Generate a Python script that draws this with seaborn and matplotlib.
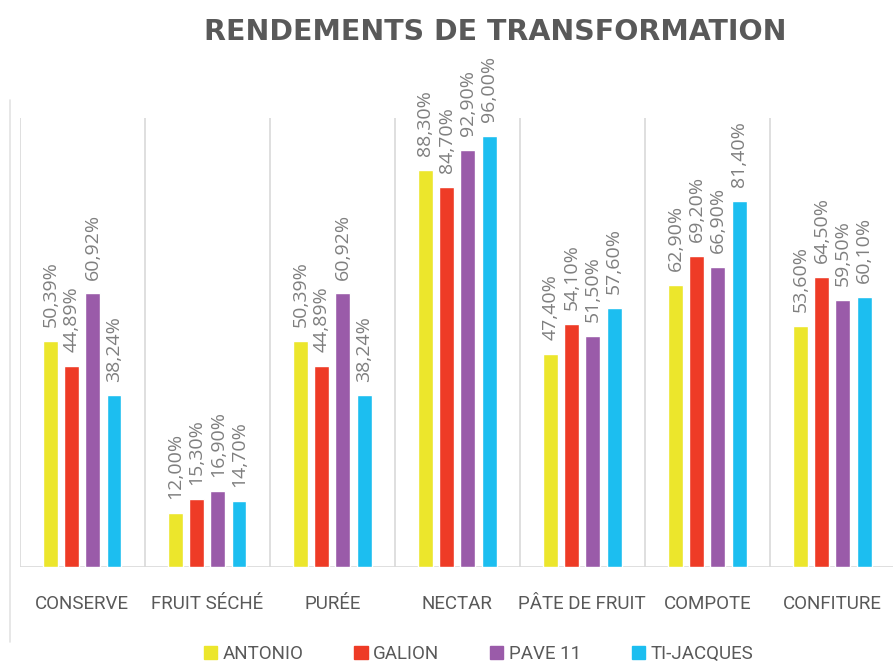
import pandas as pd
import numpy as np
import matplotlib
matplotlib.use("Agg")
import matplotlib.pyplot as plt
import seaborn as sns
from matplotlib.lines import Line2D

# data
categories = ["CONSERVE", "FRUIT SÉCHÉ", "PURÉE", "NECTAR", "PÂTE DE FRUIT", "COMPOTE", "CONFITURE"]
varieties = ["ANTONIO", "GALION", "PAVE 11", "TI-JACQUES"]
antonio = [50.39, 12.00, 50.39, 88.30, 47.40, 62.90, 53.60]
galion = [44.89, 15.30, 44.89, 84.70, 54.10, 69.20, 64.50]
pave_11 = [60.92, 16.90, 60.92, 92.90, 51.50, 66.90, 59.50]
ti_jacques = [38.24, 14.70, 38.24, 96.00, 57.60, 81.40, 60.10]
colors = ["#ECE62C", "#EE3B26", "#9A5BA9", "#1CBEF0"]


def fr_pct(v):
    # french decimal comma
    return f"{v:.2f}%".replace(".", ",")


df = pd.DataFrame({
    "categorie": categories * 4,
    "variete": np.repeat(varieties, len(categories)),
    "rendement": antonio + galion + pave_11 + ti_jacques,
})

sns.set_style("white")
plt.rcParams["font.family"] = ["DejaVu Sans"]

fig = plt.figure(figsize=(8.93, 6.69), dpi=100)
ax = fig.add_axes([0.022, 0.152, 0.98, 0.672])

sns.barplot(data=df, x="categorie", y="rendement", hue="variete", order=categories,
            hue_order=varieties, palette=colors, width=0.68, gap=0.3,
            legend=False, ax=ax, saturation=1)

for cont in ax.containers:
    vals = [b.get_height() for b in cont]
    ax.bar_label(cont, labels=[fr_pct(v) for v in vals], rotation=90, padding=10,
                 color="#7F7F7F", fontsize=14, family="Open Sans")

ax.set_ylim(0, 100)
ax.set_xlim(-0.5, len(categories) - 0.5)
for i in range(len(categories) + 1):
    ax.axvline(i - 0.5, color="#D9D9D9", lw=1.2, zorder=0)
ax.axhline(0, color="#D9D9D9", lw=1.2, zorder=0)
for s in ax.spines.values():
    s.set_visible(False)
ax.set_yticks([])
ax.set_xlabel("")
ax.set_ylabel("")
ax.tick_params(axis="x", length=0, pad=20)
for lbl in ax.get_xticklabels():
    lbl.set_fontfamily("Roboto")
    lbl.set_fontsize(13.5)
    lbl.set_color("#595959")

fig.text(0.555, 0.952, "RENDEMENTS DE TRANSFORMATION", ha="center", va="center",
         fontsize=20.5, fontweight="bold", color="#595959")

# left frame line of the chart area
fig.add_artist(Line2D([0.011, 0.011], [0.04, 0.85], color="#E3E3E3", lw=1.2))

handles = [plt.Rectangle((0, 0), 1, 1, color=c) for c in colors]
fig.legend(handles, varieties, loc="center", bbox_to_anchor=(0.536, 0.022), ncol=4,
           frameon=False, handlelength=0.7, handleheight=0.7, handletextpad=0.3,
           columnspacing=2.7, prop={"family": "Roboto", "size": 13.5}, labelcolor="#595959")

fig.savefig("out.png", dpi=100)
